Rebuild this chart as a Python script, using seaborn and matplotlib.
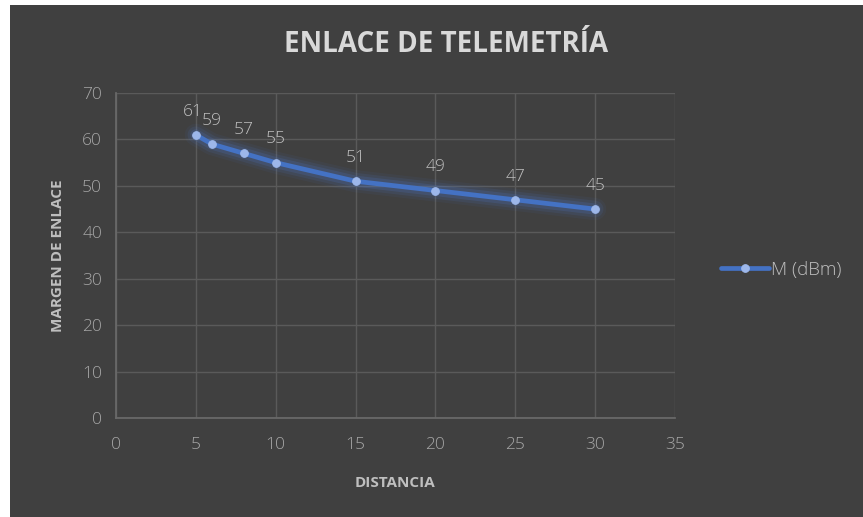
import matplotlib
matplotlib.use("Agg")
import matplotlib.pyplot as plt
import seaborn as sns
import pandas as pd
from matplotlib.patches import Rectangle

distancia = [5, 6, 8, 10, 15, 20, 25, 30]
margen = [61, 59, 57, 55, 51, 49, 47, 45]
series_name = "M (dBm)"
title = "ENLACE DE TELEMETRÍA"
xlabel = "DISTANCIA"
ylabel = "MARGEN DE ENLACE"

df = pd.DataFrame({"x": distancia, "y": margen})

sns.set_theme(style="dark")
plt.rcParams['font.family'] = ['Open Sans', 'DejaVu Sans']

BG = "#404040"
fig = plt.figure(figsize=(8.63, 5.17), dpi=100, facecolor="white")
fig.patches.append(Rectangle((10/863, 0), 1, 1 - 5/517, transform=fig.transFigure,
                             facecolor=BG, edgecolor="none", zorder=-10))
ax = fig.add_axes([116/863, 1 - 418/517, (675 - 116)/863, (418 - 93)/517])
ax.set_zorder(5)
ax.set_facecolor(BG)

# glow
for lw, a in [(16, 0.06), (12, 0.10), (8, 0.16)]:
    sns.lineplot(data=df, x="x", y="y", ax=ax, color="#4f7fe0", linewidth=lw, alpha=a,
                 legend=False, solid_capstyle="round")
sns.lineplot(data=df, x="x", y="y", ax=ax, color="#4472C4", linewidth=3.4,
             marker="o", markersize=5.5, markerfacecolor="#9db7ea", markeredgecolor="#9db7ea",
             label=series_name)

for xv, yv in zip(distancia, margen):
    dx = -2 if xv == distancia[0] else 0
    ax.annotate(str(yv), (xv, yv), xytext=(dx, 11), textcoords="offset points",
                ha="center", va="bottom", color="#bfbfbf", fontsize=12.5, fontweight="light")

ax.set_xlim(0, 35)
ax.set_ylim(0, 70)
ax.set_xticks(range(0, 36, 5))
ax.set_yticks(range(0, 71, 10))
ax.grid(True, color="#5a5a5a", linewidth=1)
for s in ["top", "right"]:
    ax.spines[s].set_visible(False)
for s in ["left", "bottom"]:
    ax.spines[s].set_visible(True)
    ax.spines[s].set_color("#6a6a6a")
ax.tick_params(colors="#a6a6a6", labelsize=12.5, length=0)
ax.tick_params(axis="x", pad=14)
ax.tick_params(axis="y", pad=10)
for lab in ax.get_xticklabels() + ax.get_yticklabels():
    lab.set_fontweight("light")

ax.set_xlabel(xlabel, color="#bfbfbf", fontsize=11, fontweight="bold", labelpad=16)
ax.set_ylabel(ylabel, color="#bfbfbf", fontsize=11, fontweight="bold", labelpad=12)
fig.text(446/863, 1 - 45/517, title, ha="center", va="center", color="#d9d9d9",
         fontsize=20, fontweight="bold")

leg = ax.legend(loc="center left", bbox_to_anchor=(713/863, 1 - 270/517),
                bbox_transform=fig.transFigure, frameon=False, fontsize=13.5,
                handlelength=2.6, handletextpad=0.1, borderaxespad=0)
for t in leg.get_texts():
    t.set_color("#bfbfbf")
    t.set_fontweight("light")

fig.savefig("out.png", dpi=100, facecolor=fig.get_facecolor())
